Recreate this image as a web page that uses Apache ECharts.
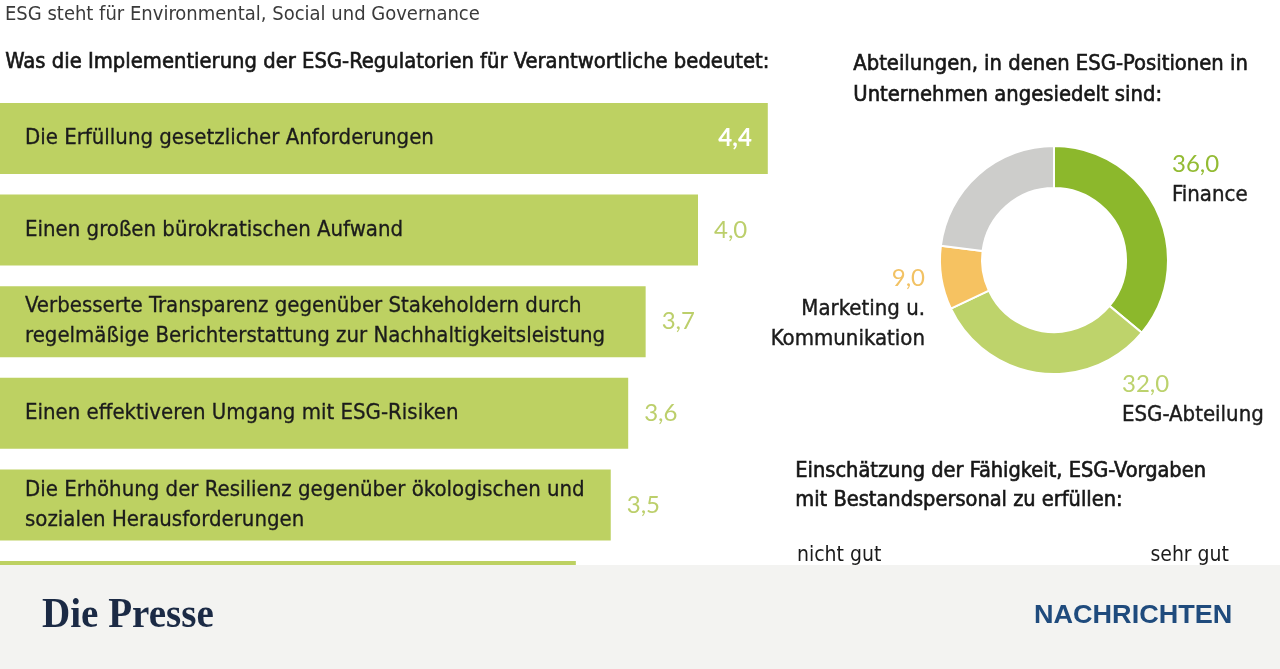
<!DOCTYPE html>
<html><head><meta charset="utf-8">
<script src="https://cdn.jsdelivr.net/npm/echarts@6/dist/echarts.min.js"></script>
<style>html,body{margin:0;padding:0;background:#fff}#c{width:1280px;height:669px}</style>
</head><body><div id="c"></div>
<script>
// Bar chart data
const barCategories = [
  'Die Erfüllung gesetzlicher Anforderungen',
  'Einen großen bürokratischen Aufwand',
  'Verbesserte Transparenz gegenüber Stakeholdern durch\nregelmäßige Berichterstattung zur Nachhaltigkeitsleistung',
  'Einen effektiveren Umgang mit ESG-Risiken',
  'Die Erhöhung der Resilienz gegenüber ökologischen und\nsozialen Herausforderungen',
  ''
];
const barValues = [4.4, 4.0, 3.7, 3.6, 3.5, 3.3];

// Donut data
const pieNames = ['Finance', 'ESG-Abteilung', 'Marketing u.\nKommunikation', 'Sonstige'];
const pieValues = [36.0, 32.0, 9.0, 23.0];

const fmt = v => v.toFixed(1).replace('.', ',');
const condensed = "'DejaVu Sans Condensed','DejaVu Sans',sans-serif";
const GREEN = '#bdd162';
const pieColors = ['#8cb82c', '#bed36b', '#f6c261', '#cdcdcb'];
const pieLabelColors = ['#93bb33', '#bcd26d', '#f2c264', '#999999'];

const chart = echarts.init(document.getElementById('c'), null, {renderer: 'canvas'});

const barData = barValues.map((v, i) => ({
  value: v,
  label: i === 0
    ? {position: 'insideRight', color: '#ffffff', distance: 16, fontWeight: 'bold'}
    : {position: 'right', color: '#bccf6b', distance: 16}
}));

// label layout positions for pie labels
const pieLabelPos = [
  {x: 1172, y: 179, align: 'left'},
  {x: 1122, y: 399, align: 'left'},
  {x: 925, y: 308, align: 'right'},
  null
];

const richPie = {
  n: {fontFamily: condensed, fontSize: 22, lineHeight: 30, color: '#1b1b1b', textBorderColor: '#1b1b1b', textBorderWidth: 0.4}
};
pieLabelColors.forEach((c, i) => {
  richPie['v' + i] = {fontFamily: 'Lato, sans-serif', fontSize: 24, lineHeight: 32, color: c};
});

const semibold = {stroke: '#161616', lineWidth: 0.6};

chart.setOption({
  animation: false,
  backgroundColor: '#ffffff',
  grid: {left: 0, width: 872.5, top: 92.7, height: 549.6, containLabel: false},
  xAxis: {type: 'value', min: 0, max: 5, show: false},
  yAxis: {type: 'category', data: barCategories, inverse: true, show: false},
  series: [
    {
      type: 'bar',
      data: barValues,
      barWidth: 71,
      itemStyle: {color: GREEN},
      label: {
        show: true,
        position: 'insideLeft',
        distance: 25,
        formatter: p => barCategories[p.dataIndex],
        fontFamily: condensed,
        fontSize: 22,
        lineHeight: 30,
        color: '#1b1b1b',
        textBorderColor: '#1b1b1b',
        textBorderWidth: 0.3
      },
      z: 2
    },
    {
      type: 'bar',
      data: barData,
      barWidth: 71,
      barGap: '-100%',
      itemStyle: {color: 'rgba(0,0,0,0)'},
      label: {
        show: true,
        formatter: p => fmt(p.value),
        fontFamily: 'Lato, sans-serif',
        fontSize: 24
      },
      z: 3
    },
    {
      type: 'pie',
      center: [1054, 260],
      radius: [72, 114],
      startAngle: 90,
      clockwise: true,
      itemStyle: {borderColor: '#ffffff', borderWidth: 2},
      labelLine: {show: false},
      data: pieValues.map((v, i) => ({
        name: pieNames[i],
        value: v,
        itemStyle: {color: pieColors[i]},
        label: {show: i < 3}
      })),
      label: {
        show: true,
        position: 'inside',
        formatter: p => '{v' + p.dataIndex + '|' + fmt(p.value) + '}\n{n|' + p.name.split('\n').join('}\n{n|') + '}',
        rich: richPie
      },
      labelLayout: p => {
        const pos = pieLabelPos[p.dataIndex];
        if (!pos) return {};
        return {x: pos.x, y: pos.y, align: pos.align, verticalAlign: 'middle', moveOverlap: false};
      },
      silent: true
    }
  ],
  graphic: [
    {type: 'text', left: 5, top: 5, style: {text: 'ESG steht für Environmental, Social und Governance', font: "20px " + condensed, fill: '#3a3a3a'}},
    {type: 'text', left: 5, top: 51, style: Object.assign({text: 'Was die Implementierung der ESG-Regulatorien für Verantwortliche bedeutet:', font: "21.8px " + condensed, fill: '#161616'}, semibold)},
    {type: 'text', left: 853, top: 49, style: Object.assign({text: 'Abteilungen, in denen ESG-Positionen in\nUnternehmen angesiedelt sind:', font: "21.8px " + condensed, fill: '#161616', lineHeight: 31}, semibold)},
    {type: 'text', left: 795, top: 457, style: Object.assign({text: 'Einschätzung der Fähigkeit, ESG-Vorgaben\nmit Bestandspersonal zu erfüllen:', font: "21.6px " + condensed, fill: '#161616', lineHeight: 29}, semibold)},
    {type: 'text', left: 797, top: 545, style: {text: 'nicht gut', font: "21px " + condensed, fill: '#1b1b1b'}},
    {type: 'text', right: 51, top: 545, style: {text: 'sehr gut', font: "21px " + condensed, fill: '#1b1b1b'}},
    {type: 'rect', left: 0, top: 565, z: 100, shape: {width: 1280, height: 104}, style: {fill: '#f3f3f1'}},
    {type: 'text', left: 42, top: 595, z: 101, style: {text: 'Die Presse', font: "bold 42px 'Liberation Serif', 'DejaVu Serif', serif", fill: '#1b2a45'}, scaleX: 0.93},
    {type: 'text', left: 1034, top: 603, z: 101, style: {text: 'NACHRICHTEN', font: "bold 26px 'Liberation Sans', Arial, sans-serif", fill: '#1f4b7d'}, scaleX: 1.04}
  ]
});
</script>
</body></html>
